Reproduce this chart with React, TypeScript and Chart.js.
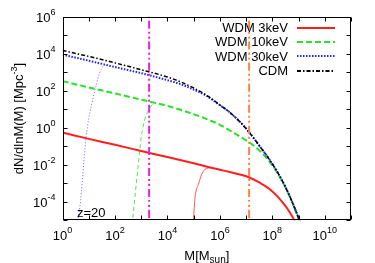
import React, { useEffect, useRef } from 'react';
import { Chart, registerables } from 'chart.js';
Chart.register(...registerables);

// ---- data ----
const massCDM = [1, 10, 100, 1e3, 1e4, 3.16e4, 1e5, 3.16e5, 1e6, 2e6, 4e6, 8e6, 1.4e7, 3.16e7, 8e7, 1.6e8, 3.16e8, 6.3e8, 1.07e9, 1.26e9];
const dnCDM = [1.5e4, 7.1e3, 3.2e3, 1.35e3, 5.5e2, 3.0e2, 1.4e2, 56, 17, 8.3, 3.5, 1.3, 0.5, 0.11, 0.018, 3.8e-3, 6.3e-4, 7e-5, 1e-5, 5e-6];
const dnWDM30 = [8.9e3, 4.2e3, 1.9e3, 8.9e2, 3.7e2, 2.25e2, 1.15e2, 52, 16.5, 8.3, 3.5, 1.3, 0.5, 0.11, 0.018, 3.8e-3, 6.3e-4, 7e-5, 1e-5, 5e-6];

const massWDM10 = [1, 10, 100, 1e3, 1e4, 3.16e4, 1e5, 3.16e5, 1e6, 3.16e6, 1e7, 3.16e7, 8e7, 1.6e8, 3.16e8, 6.3e8, 1.07e9, 1.26e9];
const dnWDM10 = [330, 150, 71, 33, 15, 9.3, 5.4, 2.95, 1.45, 0.56, 0.21, 0.06, 0.014, 3.4e-3, 6e-4, 6.8e-5, 1e-5, 5e-6];

const massWDM3 = [1, 10, 100, 1e3, 1e4, 1e5, 4.2e5, 1e6, 3.16e6, 5.75e6, 1.4e7, 3.3e7, 8e7, 1.6e8, 2.5e8, 4e8, 6.9e8, 8e8];
const dnWDM3 = [0.55, 0.25, 0.12, 0.055, 0.026, 0.012, 7.2e-3, 5.4e-3, 3.7e-3, 3.0e-3, 2.0e-3, 1.07e-3, 4.8e-4, 1.9e-4, 8.9e-5, 3.7e-5, 1e-5, 6.3e-6];

const massCut30 = [3.16, 3.8, 4.8, 6.5, 7.9, 10, 17, 25, 35.5, 45];
const dnCut30 = [1e-6, 1e-5, 1e-4, 1.6e-2, 0.32, 3.2, 100, 790, 2.2e3, 2.6e3];
const massCut10 = [400, 468, 550, 794, 1e3, 1.4e3, 2e3, 2.8e3, 3.5e3];
const dnCut10 = [1e-6, 1e-5, 1e-4, 1.6e-2, 0.32, 3.2, 10, 19, 21];
const massCut3 = [8.9e4, 9.8e4, 1.12e5, 1.5e5, 2.3e5, 3.2e5, 4.2e5];
const dnCut3 = [1e-6, 1e-5, 1.6e-4, 8.5e-4, 4.4e-3, 6.3e-3, 7.2e-3];

const vlineMagenta = 2e3;
const vlineOrange = 1.3e7;

const xDecades = [0, 1, 2, 3, 4, 5, 6, 7, 8, 9, 10, 11];
const xLabelExps = [0, 2, 4, 6, 8, 10];
const yDecades = [-5, -4, -3, -2, -1, 0, 1, 2, 3, 4, 5, 6];
const yLabelExps = [-4, -2, 0, 2, 4, 6];

const legendLabels = ['WDM 3keV', 'WDM 10keV', 'WDM 30keV', 'CDM'];
const zLabel = 'z=20';

const FONT = '"Liberation Sans", Arial, sans-serif';
const RED = 'rgb(255,30,30)';
const GREEN = 'rgb(40,225,40)';
const BLUE = 'rgb(30,30,255)';
const BLACK = 'rgb(0,0,0)';
const legendStyles = [
  { color: RED, dash: [] as number[] },
  { color: GREEN, dash: [6, 3] },
  { color: BLUE, dash: [1.5, 1.5] },
  { color: BLACK, dash: [4, 2, 1.5, 2] },
];

const zip = (xs: number[], ys: number[]) => xs.map((x, i) => ({ x, y: ys[i] }));

const overlay = {
  id: 'overlay',
  afterDraw(chart: any) {
    const ctx = chart.ctx as CanvasRenderingContext2D;
    const ca = chart.chartArea;
    const xs = chart.scales.x;
    const ys = chart.scales.y;
    ctx.save();
    // frame
    ctx.strokeStyle = '#000';
    ctx.lineWidth = 1;
    ctx.setLineDash([]);
    const L = Math.round(ca.left) + 0.5, R = Math.round(ca.right) - 0.5;
    const T = Math.round(ca.top) + 0.5, B = Math.round(ca.bottom) - 0.5;
    ctx.strokeRect(L, T, R - L, B - T);
    // ticks inward
    const tl = 4;
    ctx.beginPath();
    xDecades.forEach((d) => {
      const px = Math.round(xs.getPixelForValue(Math.pow(10, d))) + 0.5;
      ctx.moveTo(px, B); ctx.lineTo(px, B - tl);
      ctx.moveTo(px, T); ctx.lineTo(px, T + tl);
    });
    yDecades.forEach((d) => {
      const py = Math.round(ys.getPixelForValue(Math.pow(10, d))) + 0.5;
      ctx.moveTo(L, py); ctx.lineTo(L + tl, py);
      ctx.moveTo(R, py); ctx.lineTo(R - tl, py);
    });
    ctx.stroke();

    const big = 13, small = 9;
    ctx.fillStyle = '#000';
    ctx.textBaseline = 'alphabetic';
    ctx.textAlign = 'left';
    const pow = (x: number, y: number, e: number, align: 'center' | 'right') => {
      ctx.font = `${big}px ${FONT}`;
      const bw = ctx.measureText('10').width;
      ctx.font = `${small}px ${FONT}`;
      const es = String(e);
      const ew = ctx.measureText(es).width;
      const total = bw + ew;
      const left = align === 'center' ? x - total / 2 : x - total;
      ctx.font = `${big}px ${FONT}`;
      ctx.fillText('10', left, y);
      ctx.font = `${small}px ${FONT}`;
      ctx.fillText(es, left + bw, y - 7);
    };
    xLabelExps.forEach((e) => {
      const px = xs.getPixelForValue(Math.pow(10, e));
      pow(px, 239.5, e, 'center');
    });
    yLabelExps.forEach((e) => {
      const py = ys.getPixelForValue(Math.pow(10, e));
      pow(55.5, py + 5, e, 'right');
    });

    // x title M[M_sun]
    {
      ctx.font = `${big}px ${FONT}`;
      const a = 'M[M', c = ']';
      const aw = ctx.measureText(a).width, cw = ctx.measureText(c).width;
      ctx.font = `${small + 1}px ${FONT}`;
      const b = 'sun';
      const bw = ctx.measureText(b).width;
      const total = aw + bw + cw;
      const cx = (ca.left + ca.right) / 2;
      const x0 = cx - total / 2;
      const base = 259.5;
      ctx.font = `${big}px ${FONT}`;
      ctx.fillText(a, x0, base);
      ctx.font = `${small + 1}px ${FONT}`;
      ctx.fillText(b, x0 + aw, base + 3);
      ctx.font = `${big}px ${FONT}`;
      ctx.fillText(c, x0 + aw + bw, base);
    }
    // y title
    {
      ctx.save();
      const cy = (ca.top + ca.bottom) / 2;
      ctx.translate(22.5, cy);
      ctx.rotate(-Math.PI / 2);
      ctx.font = `${big}px ${FONT}`;
      const a = 'dN/dlnM(M) [Mpc', c = ']';
      const aw = ctx.measureText(a).width, cw = ctx.measureText(c).width;
      ctx.font = `${small}px ${FONT}`;
      const b = '-3';
      const bw = ctx.measureText(b).width;
      const total = aw + bw + cw;
      const x0 = -total / 2;
      ctx.font = `${big}px ${FONT}`;
      ctx.fillText(a, x0, 0);
      ctx.font = `${small}px ${FONT}`;
      ctx.fillText(b, x0 + aw, -6);
      ctx.font = `${big}px ${FONT}`;
      ctx.fillText(c, x0 + aw + bw, 0);
      ctx.restore();
    }
    // z label
    ctx.font = `${big}px ${FONT}`;
    ctx.textAlign = 'left';
    ctx.fillText(zLabel, 77, 216.5);

    // legend
    const baselines = [32, 46.3, 60.6, 75];
    legendLabels.forEach((lab, i) => {
      ctx.font = `${big}px ${FONT}`;
      ctx.textAlign = 'right';
      ctx.fillStyle = '#000';
      ctx.fillText(lab, 288, baselines[i]);
      const st = legendStyles[i];
      ctx.strokeStyle = st.color;
      ctx.lineWidth = 2;
      ctx.setLineDash(st.dash);
      ctx.beginPath();
      const ly = Math.round(baselines[i] - 4.5);
      ctx.moveTo(297, ly); ctx.lineTo(335, ly);
      ctx.stroke();
    });
    ctx.restore();
  },
};

export default function App() {
  const ref = useRef<HTMLCanvasElement>(null);
  useEffect(() => {
    if (!ref.current) return;
    const common = { pointRadius: 0, fill: false, cubicInterpolationMode: 'monotone' as const };
    const chart = new Chart(ref.current, {
      type: 'line',
      data: {
        datasets: [
          { ...common, label: 'vline1', data: [{ x: vlineMagenta, y: 1e-6 }, { x: vlineMagenta, y: 1e7 }], borderColor: 'rgb(230,30,230)', borderWidth: 2, borderDash: [8, 3, 2, 3, 2, 3], order: 1 },
          { ...common, label: 'vline2', data: [{ x: vlineOrange, y: 1e-6 }, { x: vlineOrange, y: 1e7 }], borderColor: 'rgb(255,130,70)', borderWidth: 2, borderDash: [8, 3, 2, 3, 2, 3], order: 2 },
          { ...common, label: 'CDM', data: zip(massCDM, dnCDM), borderColor: BLACK, borderWidth: 1.5, borderDash: [4, 2, 1.5, 2], order: 3 },
          { ...common, label: 'WDM 30keV', data: zip(massCDM, dnWDM30), borderColor: BLUE, borderWidth: 2, borderDash: [1.5, 1.5], order: 4 },
          { ...common, label: 'WDM 10keV', data: zip(massWDM10, dnWDM10), borderColor: GREEN, borderWidth: 2, borderDash: [6, 3], order: 5 },
          { ...common, label: 'WDM 3keV', data: zip(massWDM3, dnWDM3), borderColor: RED, borderWidth: 2, order: 6 },
          { ...common, label: 'cut30', data: zip(massCut30, dnCut30), borderColor: 'rgb(100,100,255)', borderWidth: 1, borderDash: [1, 2], order: 7 },
          { ...common, label: 'cut10', data: zip(massCut10, dnCut10), borderColor: 'rgb(80,225,80)', borderWidth: 1, borderDash: [4, 3], order: 8 },
          { ...common, label: 'cut3', data: zip(massCut3, dnCut3), borderColor: 'rgb(255,90,90)', borderWidth: 1, order: 9 },
        ],
      },
      options: {
        animation: false,
        responsive: false,
        maintainAspectRatio: false,
        layout: { padding: { left: 62.6, top: 16.7, right: 24, bottom: 42.7 } },
        plugins: { legend: { display: false }, tooltip: { enabled: false } },
        scales: {
          x: { type: 'logarithmic', min: 1, max: 1e11, display: false },
          y: { type: 'logarithmic', min: 1e-5, max: 1e6, display: false },
        },
      },
      plugins: [overlay],
    });
    return () => chart.destroy();
  }, []);
  return (
    <div style={{ position: 'absolute', left: 0, top: 0, width: 375, height: 263, background: '#fff' }}>
      <canvas ref={ref} width={375} height={263} style={{ width: 375, height: 263, display: 'block' }} />
    </div>
  );
}
